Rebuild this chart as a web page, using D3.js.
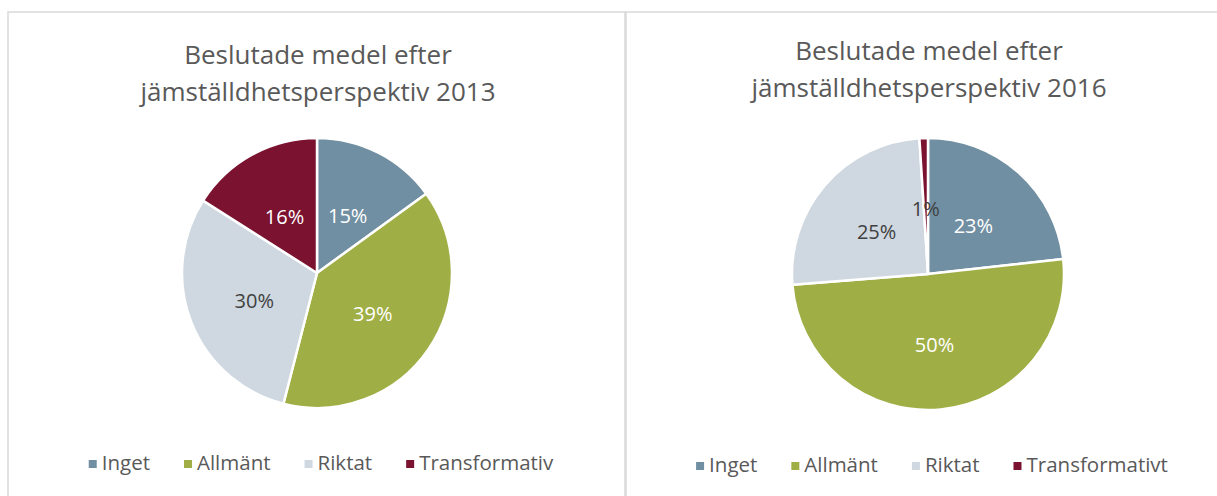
<!DOCTYPE html>
<html>
<head>
<meta charset="utf-8">
<script src="https://cdn.jsdelivr.net/npm/d3@7"></script>
<style>
  body { margin: 0; background: #fff; }
  text { font-family: "Open Sans", Lato, sans-serif; }
</style>
</head>
<body>
<svg id="container"></svg>
<script>
// data
const categories = ['Inget', 'Allmänt', 'Riktat', 'Transformativ'];
const categories2016 = ['Inget', 'Allmänt', 'Riktat', 'Transformativt'];
const values2013 = [15, 39, 30, 16];
const values2016 = [23, 50, 25, 1];
const titles = [['Beslutade medel efter', 'jämställdhetsperspektiv 2013'],
                ['Beslutade medel efter', 'jämställdhetsperspektiv 2016']];

const colors = ['#718fa2', '#a0af45', '#cfd8e0', '#7a1230'];
const labelColors = ['#ffffff', '#ffffff', '#404040', '#ffffff'];

const W = 1217, H = 496;
const svg = d3.select('#container').attr('width', W).attr('height', H);

// panel borders
svg.append('rect').attr('x', 8).attr('y', 12).attr('width', 617).attr('height', 500)
   .attr('fill', 'none').attr('stroke', '#d9d9d9').attr('stroke-width', 1.5);
svg.append('rect').attr('x', 626).attr('y', 12).attr('width', 600).attr('height', 500)
   .attr('fill', 'none').attr('stroke', '#d9d9d9').attr('stroke-width', 1.5);

const panels = [
  {cx: 317, cy: 273, r: 135, values: values2013, names: categories, title: titles[0], ty: 55, ly: 463},
  {cx: 928, cy: 274, r: 136, values: values2016, names: categories2016, title: titles[1], ty: 51, ly: 465}
];

panels.forEach(function(p) {
  const g = svg.append('g');

  // title
  const t = g.append('text')
     .attr('x', p.cx + 1)
     .attr('y', p.ty)
     .attr('text-anchor', 'middle')
     .attr('fill', '#595959')
     .style('font-size', '26px');
  p.title.forEach(function(line, i) {
    t.append('tspan').attr('x', p.cx + 1).attr('dy', i === 0 ? '0.35em' : 37).text(line);
  });

  const pie = d3.pie().sort(null).value(d => d);
  const arcs = pie(p.values);
  const arc = d3.arc().innerRadius(0).outerRadius(p.r);
  const labelArc = d3.arc().innerRadius(p.r * 0.5).outerRadius(p.r * 0.5);

  const chartBody = g.append('g').attr('transform', 'translate(' + p.cx + ',' + p.cy + ')');

  chartBody.selectAll('path')
     .data(arcs)
     .enter()
     .append('path')
     .attr('d', arc)
     .attr('fill', (d, i) => colors[i])
     .attr('stroke', '#fff')
     .attr('stroke-width', 2.5)
     .attr('stroke-linejoin', 'round');

  chartBody.selectAll('text')
     .data(arcs)
     .enter()
     .append('text')
     .attr('transform', d => 'translate(' + labelArc.centroid(d) + ')')
     .attr('text-anchor', 'middle')
     .attr('dy', '0.5em')
     .attr('fill', (d, i) => (d.value < 3) ? '#404040' : labelColors[i])
     .style('font-size', '20px')
     .text(d => d.value + '%');

  // legend, centred under the pie
  const leg = g.append('g');
  let x = 0;
  p.names.forEach(function(name, i) {
    leg.append('rect')
       .attr('x', x).attr('y', p.ly - 3)
       .attr('width', 8).attr('height', 8)
       .attr('fill', colors[i]);
    const txt = leg.append('text')
       .attr('x', x + 13).attr('y', p.ly)
       .attr('dy', '0.35em')
       .attr('fill', '#595959')
       .style('font-size', '20.5px')
       .text(name);
    x += 13 + txt.node().getComputedTextLength() + 34;
  });
  const legW = x - 34;
  leg.attr('transform', 'translate(' + (p.cx + 4 - legW / 2) + ',0)');
});
</script>
</body>
</html>
